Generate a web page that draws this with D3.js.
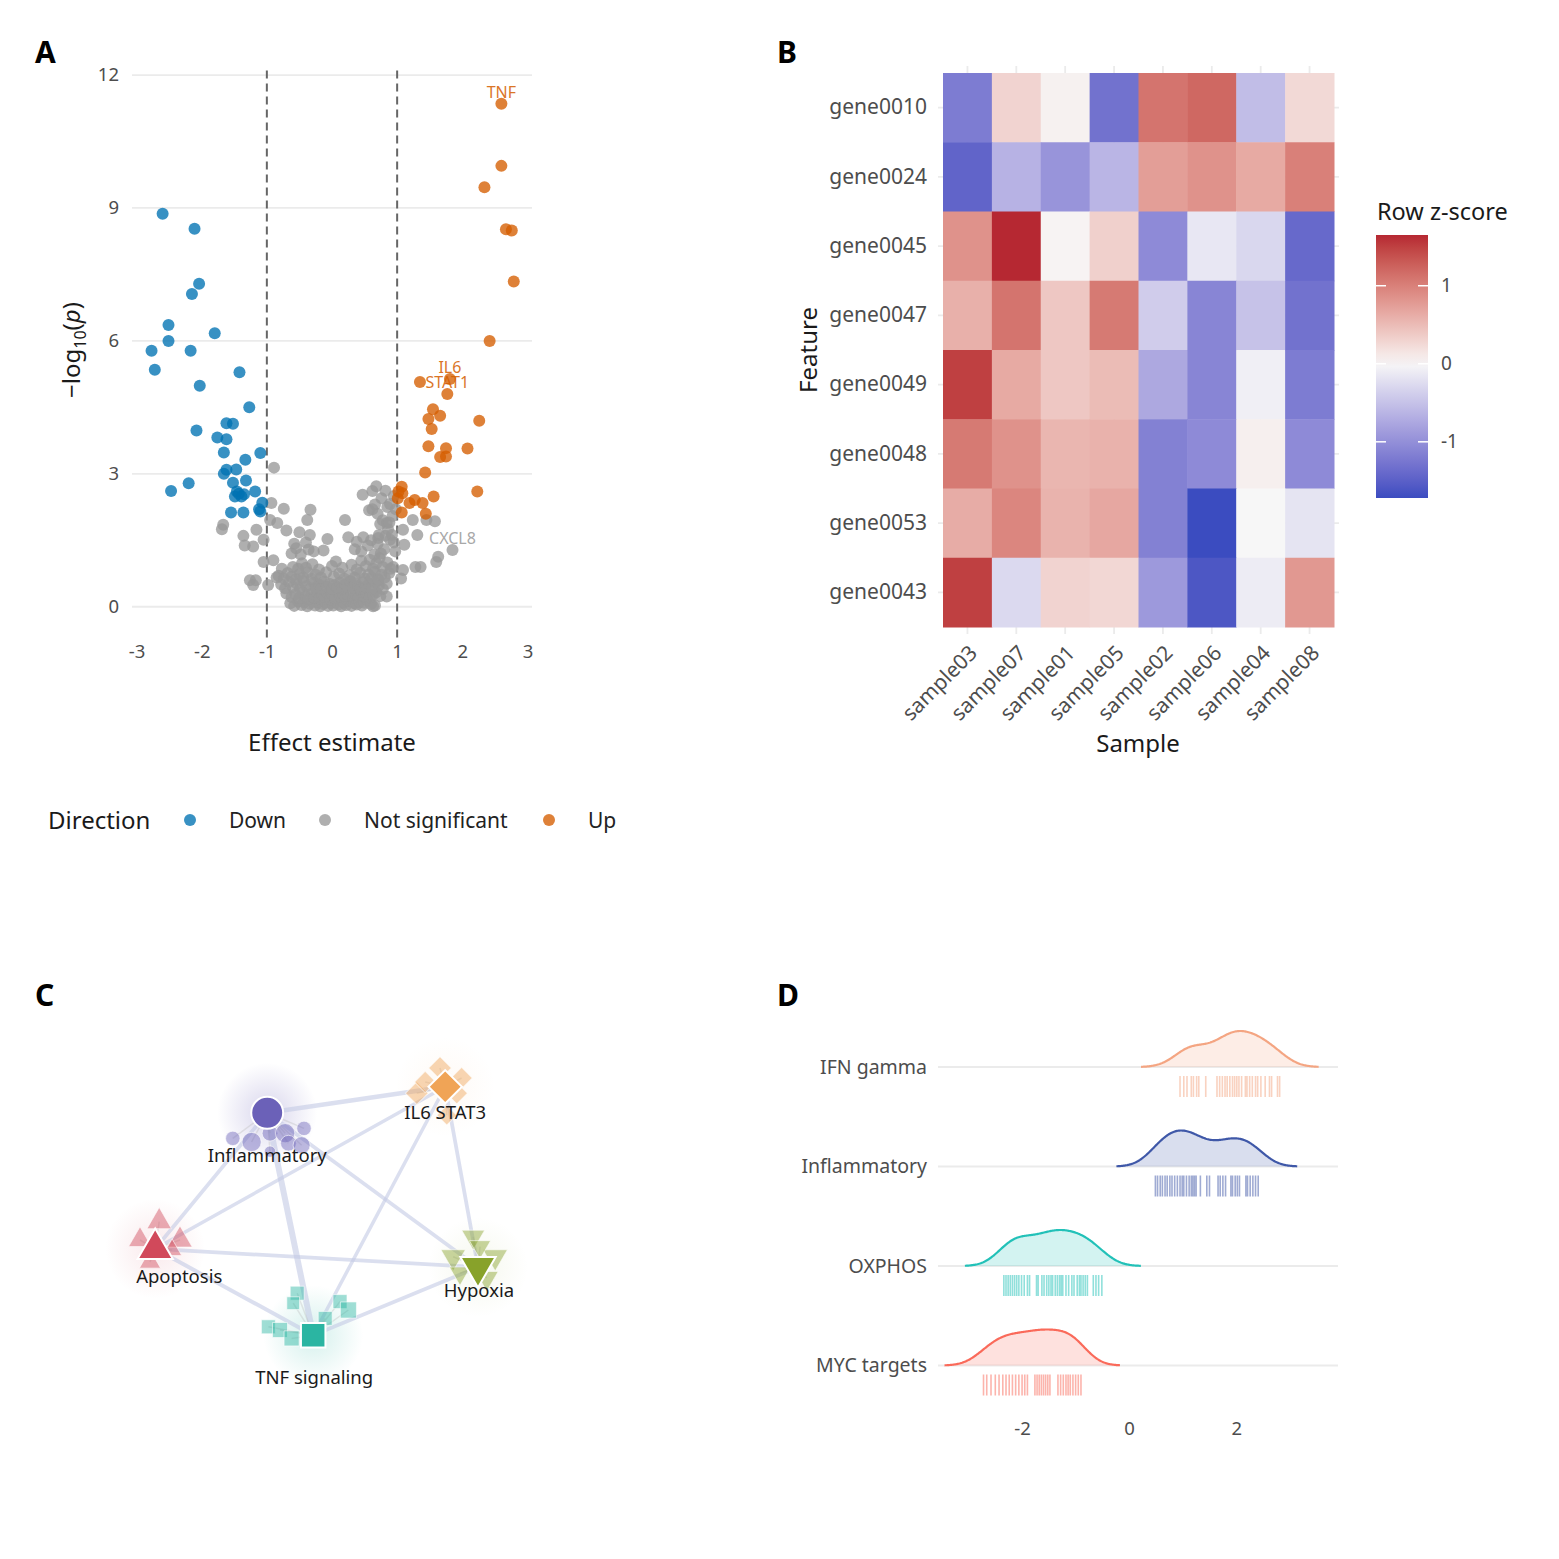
<!DOCTYPE html>
<html>
<head>
<meta charset="utf-8">
<script src="https://cdn.jsdelivr.net/npm/d3@7"></script>
<style>
body { margin: 0; background: #fff; }
text { font-family: "Noto Sans", sans-serif; }
</style>
</head>
<body>
<svg id="fig" width="1559" height="1559"></svg>
<script>
// ---------- A: volcano, [effect estimate, -log10 p]
var directions = ["Down", "Not significant", "Up"];
var dirColors = ["#0072B2", "#999999", "#D55E00"];

var downPts = [[-2.6,8.87],[-2.11,8.53],[-2.04,7.29],[-2.15,7.06],[-2.51,6.36],[-1.8,6.17],[-2.51,6.0],
  [-2.77,5.78],[-2.17,5.78],[-2.72,5.35],[-1.42,5.29],[-2.03,4.99],[-1.27,4.5],[-2.08,3.98],[-1.62,4.14],
  [-1.52,4.13],[-1.76,3.82],[-1.62,3.78],[-1.66,3.48],[-1.1,3.47],[-1.33,3.32],[-1.66,3.0],[-1.62,3.09],
  [-1.47,3.1],[-1.52,2.8],[-1.32,2.85],[-1.18,2.6],[-1.46,2.6],[-1.39,2.49],[-1.49,2.49],[-1.35,2.54],
  [-1.07,2.35],[-1.1,2.15],[-1.36,2.13],[-1.55,2.13],[-2.47,2.61],[-2.2,2.79],[-1.43,2.55],[-1.12,2.2]];

var upPts = [[2.6,11.35],[2.6,9.95],[2.34,9.47],[2.67,8.52],[2.76,8.49],[2.79,7.34],[2.42,6.0],
  [1.35,5.07],[1.81,5.14],[1.77,4.8],[1.55,4.46],[1.48,4.24],[1.66,4.31],[1.53,4.01],[2.26,4.2],
  [1.48,3.62],[1.75,3.58],[2.08,3.57],[1.66,3.38],[1.75,3.39],[1.43,3.03],[2.23,2.6],[1.56,2.49],
  [1.07,2.71],[1.08,2.56],[1.01,2.45],[1.19,2.34],[1.27,2.41],[1.39,2.34],[1.07,2.13],[1.44,2.1],[1.02,2.6]];

var nsPts = [[-0.89,3.14],[-0.93,2.34],[-0.74,2.21],[-0.33,2.19],[-0.38,1.96],[-0.95,1.96],[-0.84,1.89],
  [-1.67,1.85],[-1.69,1.75],[-1.16,1.74],[-0.7,1.72],[-1.36,1.6],[-1.05,1.51],[-1.34,1.38],[-1.21,1.36],
  [-0.58,1.42],[-0.36,1.29],[-0.13,1.27],[-0.07,1.53],[0.2,1.96],[0.25,1.57],[0.38,1.47],[0.48,1.57],
  [0.47,2.53],[0.62,2.61],[0.68,2.72],[0.57,2.18],[0.66,2.31],[0.74,1.87],[0.84,1.89],[0.89,2.32],
  [0.71,1.55],[0.89,1.51],[1.09,1.74],[1.24,1.96],[1.31,1.62],[1.11,1.4],[1.45,1.96],[1.58,1.93],
  [1.63,1.13],[1.6,1.01],[1.85,1.28],[1.28,0.9],[1.36,0.9],[1.09,0.83],[1.06,0.64],[0.94,0.9],
  [-1.26,0.6],[-1.17,0.6],[-1.21,0.49],[-0.98,0.49],[-1.05,1.01],[-0.9,1.05],[-0.85,0.66],[-0.77,0.86],
  [0.84,0.23],[0.63,0.01],
  [-0.64,0.08],[-0.58,0.02],[-0.52,0.12],[-0.47,0.04],[-0.43,0.1],[-0.38,0.01],[-0.34,0.07],[-0.3,0.13],
  [-0.26,0.03],[-0.22,0.09],[-0.18,0.01],[-0.14,0.06],[-0.1,0.11],[-0.06,0.02],[-0.02,0.08],[0.02,0.03],
  [0.06,0.12],[0.1,0.05],[0.14,0.01],[0.18,0.09],[0.22,0.04],[0.26,0.13],[0.3,0.02],[0.34,0.08],
  [0.38,0.05],[0.42,0.11],[0.46,0.03],[0.5,0.09],[0.55,0.14],[0.6,0.06],[0.66,0.03],
  [-0.7,0.3],[-0.62,0.22],[-0.56,0.28],[-0.5,0.2],[-0.45,0.33],[-0.4,0.24],[-0.36,0.18],[-0.31,0.3],
  [-0.27,0.21],[-0.23,0.34],[-0.19,0.19],[-0.15,0.27],[-0.11,0.22],[-0.07,0.31],[-0.03,0.17],[0.01,0.26],
  [0.05,0.2],[0.09,0.33],[0.13,0.23],[0.17,0.29],[0.21,0.18],[0.25,0.25],[0.29,0.32],[0.33,0.2],
  [0.37,0.28],[0.41,0.22],[0.45,0.34],[0.49,0.24],[0.53,0.3],[0.58,0.21],[0.63,0.27],[0.68,0.33],[0.74,0.24],
  [-0.78,0.5],[-0.72,0.42],[-0.66,0.56],[-0.6,0.45],[-0.54,0.52],[-0.49,0.4],[-0.44,0.58],[-0.39,0.47],
  [-0.33,0.42],[-0.28,0.55],[-0.24,0.44],[-0.2,0.5],[-0.16,0.41],[-0.12,0.57],[-0.08,0.46],[-0.04,0.52],
  [0.0,0.4],[0.04,0.49],[0.08,0.44],[0.12,0.55],[0.16,0.42],[0.2,0.51],[0.24,0.46],[0.28,0.58],
  [0.32,0.43],[0.36,0.53],[0.4,0.47],[0.44,0.41],[0.48,0.56],[0.52,0.45],[0.57,0.52],[0.62,0.42],
  [0.67,0.55],[0.72,0.48],[0.78,0.4],[0.84,0.52],
  [-0.82,0.7],[-0.74,0.64],[-0.68,0.76],[-0.62,0.68],[-0.55,0.62],[-0.5,0.74],[-0.44,0.66],[-0.37,0.78],
  [-0.31,0.63],[-0.25,0.72],[-0.17,0.66],[-0.09,0.78],[0.03,0.68],[0.11,0.75],[0.19,0.63],[0.27,0.71],
  [0.35,0.66],[0.43,0.77],[0.5,0.64],[0.56,0.73],[0.61,0.66],[0.66,0.79],[0.71,0.62],[0.76,0.72],
  [0.81,0.66],[0.88,0.76],
  [-0.6,0.9],[-0.52,0.86],[-0.46,0.98],[-0.4,0.88],[-0.3,0.96],[-0.2,0.84],[0.0,0.92],[0.06,1.02],
  [0.16,0.88],[0.3,0.95],[0.38,0.84],[0.45,1.04],[0.52,0.92],[0.58,1.06],[0.63,0.86],[0.68,0.98],
  [0.73,1.1],[0.78,0.9],[0.85,1.0],[0.9,0.86],
  [-0.62,1.2],[-0.55,1.32],[-0.48,1.18],[-0.4,1.45],[-0.34,1.62],[-0.5,1.68],[-0.28,1.25],[0.35,1.3],
  [0.45,1.25],[0.55,1.38],[0.6,1.5],[0.7,1.42],[0.75,1.2],[0.8,1.3],[0.82,1.6],[0.86,1.75],[0.92,1.62],
  [0.95,1.45],[0.97,1.25],[0.65,1.18],[0.72,1.62],
  [0.62,2.2],[0.7,2.1],[0.78,1.95],[0.85,2.25],[0.95,2.5],[0.93,2.05],[0.76,2.45],[0.82,2.62],[0.98,2.2],[0.88,1.9]];

var geneLabels = ["TNF", "IL6", "STAT1", "CXCL8"];
var geneLabelPts = [[2.6,11.35],[1.81,5.14],[1.77,4.8],[1.85,1.28]];
var geneLabelDir = [2, 2, 2, 1];
var volcanoXTicks = [-3, -2, -1, 0, 1, 2, 3];
var volcanoYTicks = [0, 3, 6, 9, 12];
var effectCutoffs = [-1, 1];

// ---------- B: heatmap of row z-scores
var genes = ["gene0010","gene0024","gene0045","gene0047","gene0049","gene0048","gene0053","gene0043"];
var samples = ["sample03","sample07","sample01","sample05","sample02","sample06","sample04","sample08"];
var zscores = [
  [-1.2, 0.3, 0.05, -1.3, 1.1, 1.2, -0.55, 0.25],
  [-1.45, -0.65, -0.95, -0.62, 0.75, 0.85, 0.65, 1.0],
  [0.85, 1.65, 0.03, 0.33, -1.05, -0.15, -0.3, -1.4],
  [0.6, 1.1, 0.4, 1.05, -0.4, -1.1, -0.5, -1.3],
  [1.5, 0.65, 0.4, 0.5, -0.75, -1.1, -0.07, -1.2],
  [1.05, 0.85, 0.55, 0.58, -1.15, -1.05, 0.07, -1.05],
  [0.63, 0.95, 0.57, 0.67, -1.15, -1.72, 0.0, -0.18],
  [1.5, -0.28, 0.3, 0.27, -0.9, -1.6, -0.1, 0.8]
];
var zTicks = [-1, 0, 1];

// ---------- C: pathway network (layout units)
var hubNames = ["Inflammatory", "IL6 STAT3", "Apoptosis", "Hypoxia", "TNF signaling"];
var hubX = [3.68, 8.13, 0.88, 8.95, 4.83];
var hubY = [1.32, 0.67, 4.72, 5.18, 6.88];
var edgeFrom = [0, 0, 0, 0, 1, 1, 1, 2, 2, 4];
var edgeTo   = [1, 2, 4, 3, 2, 4, 3, 3, 4, 3];
var edgeWeight = [0.6, 0.45, 0.9, 0.45, 0.4, 0.4, 0.45, 0.45, 0.5, 0.45];
var memberHub = [0,0,0,0,0,0,0,0, 1,1,1,1,1,1, 2,2,2,2,2, 3,3,3,3,3,3, 4,4,4,4,4,4,4,4];
var memberX = [2.82,3.29,3.75,4.13,4.6,4.21,4.54,3.75, 8.0,8.54,7.42,8.42,8.17,7.63,
  0.98,0.5,1.5,0.75,1.3, 8.83,8.33,9.38,9.0,9.17,8.5, 4.43,4.33,3.71,4.0,4.29,5.5,5.71,5.13];
var memberY = [1.96,2.05,1.83,1.83,1.71,2.08,2.13,2.29, 0.2,0.45,0.83,0.83,1.38,0.55,
  4.04,4.5,4.5,5.05,4.75, 4.42,4.92,4.92,4.67,5.45,5.33, 5.83,6.08,6.67,6.75,6.96,6.04,6.25,6.46];
var memberScore = [0.5,0.9,0.6,0.9,0.5,0.6,0.7,0.3, 0.8,0.7,0.8,0.7,0.6,0.7,
  0.8,0.7,0.8,0.6,0.5, 0.7,0.8,0.8,0.6,0.7,0.6, 0.6,0.5,0.6,0.7,0.7,0.6,0.8,0.6];

// ---------- D: ridgeline of pathway scores
var ridgeSets = ["IFN gamma", "Inflammatory", "OXPHOS", "MYC targets"];
var ifnScores = [0.95,1.02,1.08,1.16,1.2,1.26,1.3,1.43,1.64,1.69,1.74,1.79,1.83,1.88,1.93,1.97,2.01,
  2.05,2.1,2.17,2.2,2.25,2.3,2.36,2.4,2.46,2.54,2.62,2.66,2.77,2.81];
var inflScores = [0.49,0.53,0.58,0.62,0.67,0.71,0.76,0.8,0.85,0.9,0.95,0.99,1.02,1.07,1.12,1.16,1.19,
  1.22,1.25,1.33,1.45,1.5,1.66,1.7,1.75,1.8,1.9,1.93,1.98,2.02,2.06,2.18,2.21,2.26,2.31,2.36,2.41];
var oxphosScores = [-2.34,-2.3,-2.26,-2.22,-2.18,-2.14,-2.1,-2.06,-2.01,-1.96,-1.9,-1.86,-1.73,-1.7,
  -1.63,-1.59,-1.54,-1.5,-1.46,-1.43,-1.38,-1.34,-1.3,-1.27,-1.24,-1.18,-1.13,-1.07,-1.03,-0.97,-0.93,
  -0.9,-0.86,-0.82,-0.78,-0.67,-0.62,-0.57,-0.51];
var mycScores = [-2.72,-2.66,-2.58,-2.5,-2.43,-2.36,-2.3,-2.24,-2.18,-2.12,-2.06,-2.0,-1.95,-1.9,
  -1.76,-1.72,-1.68,-1.64,-1.6,-1.56,-1.52,-1.48,
  -1.33,-1.28,-1.23,-1.18,-1.14,-1.1,-1.05,-1.0,-0.95,-0.9];
var ridgeTicks = [-2, 0, 2];


var svg = d3.select("#fig");
var TICK = "#4D4D4D", TITLE = "#1A1A1A", GRID = "#EBEBEB";
var plainNum = function (d) { return String(d); };   // ggplot style "-2", not "−2.0"

function panelTag(x, y, s) {
    svg.append("text").attr("x", x).attr("y", y)
        .style("font-size", "30px").style("font-weight", "bold").style("fill", "#000")
        .text(s);
}

function styleAxis(g, size, color) {
    g.select(".domain").remove();
    g.selectAll("text").style("font-size", size + "px").style("fill", color)
        .style("font-family", '"Noto Sans", sans-serif');
}

drawVolcano();
drawHeatmap();
drawNetwork();
drawRidges();

function drawVolcano() {
    panelTag(35, 63, "A");
    var x = d3.scaleLinear().domain([-3.07, 3.07]).range([132, 532]);
    var y = d3.scaleLinear().domain([-0.75, 12.1]).range([640, 70.6]);
    var g = svg.append("g");

    g.selectAll(".hgrid").data(volcanoYTicks).enter().append("line")
        .attr("x1", 132).attr("x2", 532)
        .attr("y1", function (d) { return y(d); }).attr("y2", function (d) { return y(d); })
        .style("stroke", GRID).style("stroke-width", 1.8);

    g.selectAll(".cut").data(effectCutoffs).enter().append("line")
        .attr("x1", function (d) { return x(d); }).attr("x2", function (d) { return x(d); })
        .attr("y1", 70.6).attr("y2", 640)
        .style("stroke", "#666").style("stroke-width", 2).style("stroke-dasharray", "8,5");

    var groups = [downPts, nsPts, upPts];
    // grey first so the coloured points sit on top
    [1, 0, 2].forEach(function (k) {
        g.selectAll(".pt" + k).data(groups[k]).enter().append("circle")
            .attr("cx", function (d) { return x(d[0]); })
            .attr("cy", function (d) { return y(d[1]); })
            .attr("r", 6)
            .style("fill", dirColors[k]).style("opacity", 0.78);
    });

    g.selectAll(".glab").data(geneLabels).enter().append("text")
        .attr("x", function (d, i) { return x(geneLabelPts[i][0]); })
        .attr("y", function (d, i) { return y(geneLabelPts[i][1]) - 6; })
        .attr("text-anchor", "middle")
        .style("font-size", "16px")
        .style("fill", function (d, i) { return dirColors[geneLabelDir[i]]; })
        .style("opacity", 0.85)
        .text(function (d) { return d; });

    var ya = g.append("g").attr("transform", "translate(132,0)")
        .call(d3.axisLeft(y).tickValues(volcanoYTicks).tickFormat(plainNum).tickSize(0).tickPadding(13));
    styleAxis(ya, 18.5, TICK);
    var xa = g.append("g").attr("transform", "translate(0,640)")
        .call(d3.axisBottom(x).tickValues(volcanoXTicks).tickFormat(plainNum).tickSize(0).tickPadding(5));
    styleAxis(xa, 18.5, TICK);

    g.append("text").attr("x", 332).attr("y", 751).attr("text-anchor", "middle")
        .style("font-size", "24px").style("fill", TITLE).text("Effect estimate");

    var yt = g.append("text").attr("transform", "translate(80,350) rotate(-90)")
        .attr("text-anchor", "middle").style("font-size", "24px").style("fill", TITLE);
    yt.append("tspan").text("\u2212log");
    yt.append("tspan").attr("dy", 6).style("font-size", "16px").text("10");
    yt.append("tspan").attr("dy", -6).text("(");
    yt.append("tspan").style("font-style", "italic").text("p");
    yt.append("tspan").text(")");

    // legend
    var legX = [190, 325, 549];
    g.append("text").attr("x", 48).attr("y", 829)
        .style("font-size", "24px").style("fill", TITLE).text("Direction");
    g.selectAll(".lk").data(directions).enter().append("circle")
        .attr("cx", function (d, i) { return legX[i]; }).attr("cy", 820).attr("r", 6)
        .style("fill", function (d, i) { return dirColors[i]; }).style("opacity", 0.78);
    g.selectAll(".lt").data(directions).enter().append("text")
        .attr("x", function (d, i) { return legX[i] + 39; }).attr("y", 828)
        .style("font-size", "21px").style("fill", "#222")
        .text(function (d) { return d; });
}

function drawHeatmap() {
    panelTag(777, 63, "B");
    var x = d3.scaleBand().domain(samples).range([943, 1334]);
    var y = d3.scaleBand().domain(genes).range([73, 627]);
    var lim = 1.72;
    var color = d3.scaleLinear().domain([-lim, 0, lim])
        .range(["#3B4CC0", "#F7F7F7", "#B2182B"]).interpolate(d3.interpolateLab);
    var g = svg.append("g");

    g.selectAll(".hg").data(genes).enter().append("line")
        .attr("x1", 938).attr("x2", 1339)
        .attr("y1", function (d) { return y(d) + y.bandwidth() / 2; })
        .attr("y2", function (d) { return y(d) + y.bandwidth() / 2; })
        .style("stroke", GRID).style("stroke-width", 1.8);
    g.selectAll(".vg").data(samples).enter().append("line")
        .attr("y1", 66).attr("y2", 634)
        .attr("x1", function (d) { return x(d) + x.bandwidth() / 2; })
        .attr("x2", function (d) { return x(d) + x.bandwidth() / 2; })
        .style("stroke", GRID).style("stroke-width", 1.8);

    var cells = [];
    genes.forEach(function (gn, i) {
        samples.forEach(function (s, j) { cells.push({ gene: gn, sample: s, z: zscores[i][j] }); });
    });
    g.selectAll(".tile").data(cells).enter().append("rect")
        .attr("x", function (d) { return x(d.sample); })
        .attr("y", function (d) { return y(d.gene); })
        .attr("width", x.bandwidth() + 0.5).attr("height", y.bandwidth() + 0.5)
        .style("fill", function (d) { return color(d.z); });

    var ya = g.append("g").attr("transform", "translate(938,0)")
        .call(d3.axisLeft(y).tickSize(0).tickPadding(11));
    styleAxis(ya, 21, TICK);

    g.selectAll(".slab").data(samples).enter().append("text")
        .attr("transform", function (d) {
            return "translate(" + (x(d) + x.bandwidth() / 2) + ",643) rotate(-45)";
        })
        .attr("text-anchor", "end").attr("dy", "0.75em")
        .style("font-size", "21px").style("fill", TICK)
        .text(function (d) { return d; });

    g.append("text").attr("x", 1138).attr("y", 752).attr("text-anchor", "middle")
        .style("font-size", "24px").style("fill", TITLE).text("Sample");
    g.append("text").attr("transform", "translate(817,350) rotate(-90)")
        .attr("text-anchor", "middle").style("font-size", "24px").style("fill", TITLE).text("Feature");

    // colourbar
    var cb = d3.scaleLinear().domain([-1.72, 1.65]).range([498, 235]);
    var grad = svg.append("defs").append("linearGradient").attr("id", "zgrad")
        .attr("x1", 0).attr("y1", 1).attr("x2", 0).attr("y2", 0);
    d3.range(0, 21).forEach(function (i) {
        var v = -1.72 + (1.65 + 1.72) * i / 20;
        grad.append("stop").attr("offset", (i / 20 * 100) + "%").attr("stop-color", color(v));
    });
    g.append("text").attr("x", 1377).attr("y", 220)
        .style("font-size", "23.5px").style("fill", TITLE).text("Row z-score");
    g.append("rect").attr("x", 1376).attr("y", 235).attr("width", 52).attr("height", 263)
        .style("fill", "url(#zgrad)");
    zTicks.forEach(function (t) {
        [[1376, 1386], [1418, 1428]].forEach(function (s) {
            g.append("line").attr("x1", s[0]).attr("x2", s[1])
                .attr("y1", cb(t)).attr("y2", cb(t))
                .style("stroke", "#fff").style("stroke-width", 1.5);
        });
        g.append("text").attr("x", 1441).attr("y", cb(t)).attr("dy", "0.35em")
            .style("font-size", "19px").style("fill", TICK).text(t);
    });
}

function drawNetwork() {
    panelTag(35, 1006, "C");
    var x = d3.scaleLinear().domain([0, 10]).range([120, 520]);
    var y = d3.scaleLinear().domain([0, 8]).range([1060, 1380]);
    var hubColors = ["#6B61B8", "#F0A456", "#D1495B", "#88A22A", "#2BB5A2"];
    var haloAlpha = [0.26, 0.06, 0.12, 0.08, 0.2];
    var shapes = [d3.symbolCircle, d3.symbolSquare, d3.symbolTriangle, d3.symbolTriangle, d3.symbolSquare];
    var rot = [0, 45, 0, 180, 0];
    var hubSize = [800, 560, 540, 540, 600];
    var labelDx = [0, 0, 24, 1, 1], labelDy = [43, 26, 28, 23, 42];
    var width = d3.scaleLinear().domain([0.4, 0.9]).range([3.5, 6]);
    var msize = d3.scaleLinear().domain([0.3, 0.9]).range([100, 290]);
    var g = svg.append("g");
    var defs = svg.append("defs");

    hubNames.forEach(function (h, i) {
        var rg = defs.append("radialGradient").attr("id", "halo" + i);
        rg.append("stop").attr("offset", "0%").attr("stop-color", hubColors[i]).attr("stop-opacity", haloAlpha[i]);
        rg.append("stop").attr("offset", "100%").attr("stop-color", hubColors[i]).attr("stop-opacity", 0);
    });
    g.selectAll(".halo").data(hubNames).enter().append("circle")
        .attr("cx", function (d, i) { return x(hubX[i]); })
        .attr("cy", function (d, i) { return y(hubY[i]); })
        .attr("r", 50)
        .style("fill", function (d, i) { return "url(#halo" + i + ")"; });

    g.selectAll(".edge").data(edgeWeight).enter().append("line")
        .attr("x1", function (d, i) { return x(hubX[edgeFrom[i]]); })
        .attr("y1", function (d, i) { return y(hubY[edgeFrom[i]]); })
        .attr("x2", function (d, i) { return x(hubX[edgeTo[i]]); })
        .attr("y2", function (d, i) { return y(hubY[edgeTo[i]]); })
        .style("stroke", "#C3CAE4").style("stroke-opacity", 0.6)
        .style("stroke-width", function (d) { return width(d); })
        .style("stroke-linecap", "round");

    g.selectAll(".mlink").data(memberHub).enter().append("line")
        .attr("x1", function (d) { return x(hubX[d]); })
        .attr("y1", function (d) { return y(hubY[d]); })
        .attr("x2", function (d, i) { return x(memberX[i]); })
        .attr("y2", function (d, i) { return y(memberY[i]); })
        .style("stroke", "#BBBBBB").style("stroke-opacity", 0.35).style("stroke-width", 1.5);

    g.selectAll(".member").data(memberHub).enter().append("path")
        .attr("transform", function (d, i) {
            return "translate(" + x(memberX[i]) + "," + y(memberY[i]) + ") rotate(" + rot[d] + ")";
        })
        .attr("d", function (d, i) { return d3.symbol().type(shapes[d]).size(msize(memberScore[i]))(); })
        .style("fill", function (d) { return hubColors[d]; })
        .style("fill-opacity", 0.45)
        .style("stroke", "#fff").style("stroke-opacity", 0.6).style("stroke-width", 1);

    g.selectAll(".hub").data(hubNames).enter().append("path")
        .attr("transform", function (d, i) {
            return "translate(" + x(hubX[i]) + "," + y(hubY[i]) + ") rotate(" + rot[i] + ")";
        })
        .attr("d", function (d, i) { return d3.symbol().type(shapes[i]).size(hubSize[i])(); })
        .style("fill", function (d, i) { return hubColors[i]; })
        .style("stroke", "#fff").style("stroke-width", 2);

    g.selectAll(".hlab").data(hubNames).enter().append("text")
        .attr("x", function (d, i) { return x(hubX[i]) + labelDx[i]; })
        .attr("y", function (d, i) { return y(hubY[i]) + labelDy[i]; })
        .attr("dy", "0.35em").attr("text-anchor", "middle")
        .style("font-size", "18.5px").style("fill", "#1A1A1A")
        .text(function (d) { return d; });
}

function kde(values, bw, cut) {
    var lo = d3.min(values) - cut * bw, hi = d3.max(values) + cut * bw;
    return d3.range(0, 201).map(function (i) {
        var xv = lo + (hi - lo) * i / 200;
        var s = d3.sum(values, function (v) { var u = (xv - v) / bw; return Math.exp(-0.5 * u * u); });
        return [xv, s / (values.length * bw * Math.sqrt(2 * Math.PI))];
    });
}

function drawRidges() {
    panelTag(777, 1006, "D");
    var sets = [ifnScores, inflScores, oxphosScores, mycScores];
    var ridgeColors = ["#F4A582", "#3F58A8", "#22C1B8", "#FA6A5A"];
    var x = d3.scaleLinear().domain([-3.57, 3.9]).range([938, 1338]);
    var y = d3.scalePoint().domain(ridgeSets).range([1067, 1365.5]);
    var dens = sets.map(function (s) { return kde(s, 0.28, 2.6); });
    var g = svg.append("g");

    g.selectAll(".rg").data(ridgeSets).enter().append("line")
        .attr("x1", 938).attr("x2", 1338)
        .attr("y1", function (d) { return y(d); }).attr("y2", function (d) { return y(d); })
        .style("stroke", GRID).style("stroke-width", 1.8);

    ridgeSets.forEach(function (name, k) {
        var base = y(name);
        // each ridge scaled to its own peak, as in the reference
        var h = d3.scaleLinear().domain([0, d3.max(dens[k], function (p) { return p[1]; })]).range([0, 36]);
        var area = d3.area().x(function (p) { return x(p[0]); })
            .y0(base).y1(function (p) { return base - h(p[1]); });
        var line = d3.line().x(function (p) { return x(p[0]); })
            .y(function (p) { return base - h(p[1]); });
        g.append("path").datum(dens[k]).attr("d", area)
            .style("fill", ridgeColors[k]).style("fill-opacity", 0.2);
        g.append("path").datum(dens[k]).attr("d", line)
            .style("fill", "none").style("stroke", ridgeColors[k]).style("stroke-width", 2.2);
        g.selectAll(".rug" + k).data(sets[k]).enter().append("line")
            .attr("x1", function (d) { return x(d); }).attr("x2", function (d) { return x(d); })
            .attr("y1", base + 9).attr("y2", base + 30)
            .style("stroke", ridgeColors[k]).style("stroke-opacity", 0.5).style("stroke-width", 1.6);
    });

    var ya = g.append("g").attr("transform", "translate(938,0)")
        .call(d3.axisLeft(y).tickSize(0).tickPadding(11));
    styleAxis(ya, 19.5, TICK);
    var xa = g.append("g").attr("transform", "translate(0,1417)")
        .call(d3.axisBottom(x).tickValues(ridgeTicks).tickFormat(plainNum).tickSize(0).tickPadding(5));
    styleAxis(xa, 18.5, TICK);
}
</script>
</body>
</html>
